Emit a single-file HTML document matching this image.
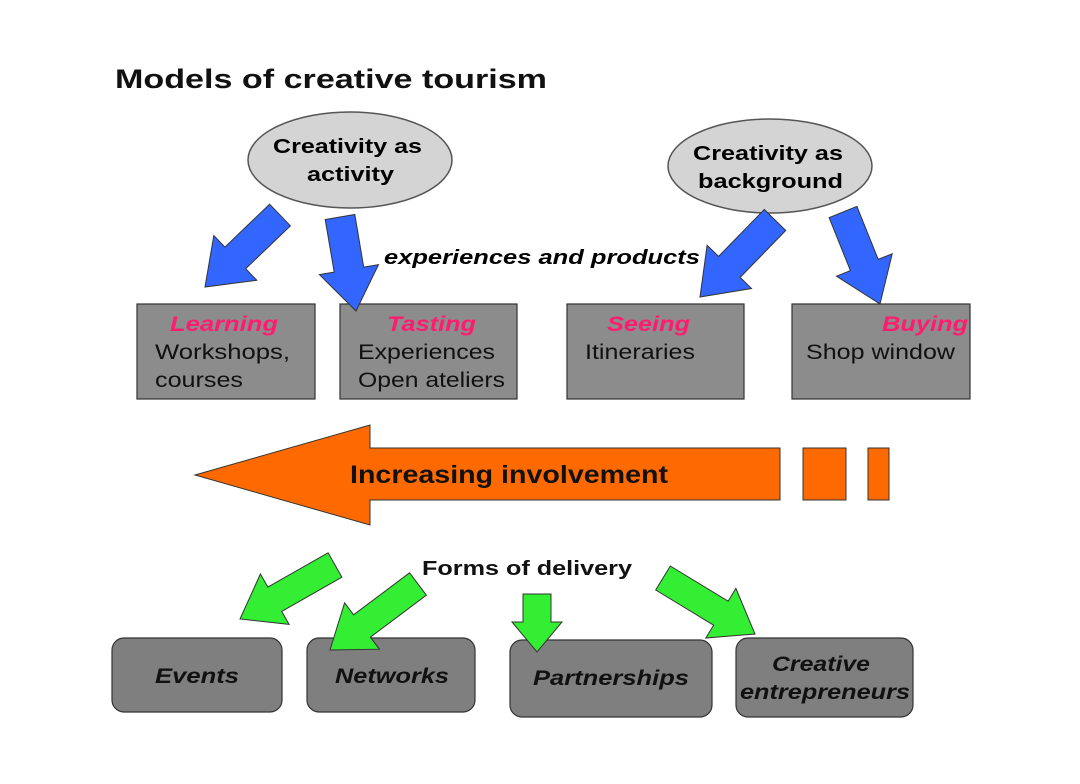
<!DOCTYPE html>
<html><head><meta charset="utf-8"><style>
body{margin:0;background:#fff}
svg text{font-family:"Liberation Sans",Arial,sans-serif}
</style></head><body>
<svg id="s" width="1080" height="779" viewBox="0 0 1080 779" xmlns="http://www.w3.org/2000/svg">
<text x="115" y="88" font-size="27" font-weight="bold" fill="#111" textLength="432" lengthAdjust="spacingAndGlyphs">Models of creative tourism</text>
<ellipse cx="350" cy="160" rx="102" ry="48" fill="#d4d4d4" stroke="#555" stroke-width="1.5"/>
<text x="273" y="153" font-size="20" font-weight="bold" textLength="149" lengthAdjust="spacingAndGlyphs">Creativity as</text>
<text x="307" y="181" font-size="20" font-weight="bold" textLength="87" lengthAdjust="spacingAndGlyphs">activity</text>
<ellipse cx="770" cy="166" rx="102" ry="47" fill="#d4d4d4" stroke="#555" stroke-width="1.5"/>
<text x="693" y="160" font-size="20" font-weight="bold" textLength="150" lengthAdjust="spacingAndGlyphs">Creativity as</text>
<text x="698" y="188" font-size="20" font-weight="bold" textLength="145" lengthAdjust="spacingAndGlyphs">background</text>
<text x="384" y="264" font-size="20" font-weight="bold" font-style="italic" textLength="316" lengthAdjust="spacingAndGlyphs">experiences and products</text>

<g fill="#8c8c8c" stroke="#333" stroke-width="1.2">
<rect x="137" y="304" width="178" height="95"/>
<rect x="340" y="304" width="177" height="95"/>
<rect x="567" y="304" width="177" height="95"/>
<rect x="792" y="304" width="178" height="95"/>
</g>
<g font-size="21" font-weight="bold" font-style="italic" fill="#ff1c6e" lengthAdjust="spacingAndGlyphs">
<text x="170" y="331" textLength="108" lengthAdjust="spacingAndGlyphs">Learning</text>
<text x="387" y="331" textLength="89" lengthAdjust="spacingAndGlyphs">Tasting</text>
<text x="607" y="331" textLength="83" lengthAdjust="spacingAndGlyphs">Seeing</text>
<text x="882" y="331" textLength="86" lengthAdjust="spacingAndGlyphs">Buying</text>
</g>
<g font-size="21" fill="#111">
<text x="155" y="359" textLength="135" lengthAdjust="spacingAndGlyphs">Workshops,</text>
<text x="155" y="387" textLength="88" lengthAdjust="spacingAndGlyphs">courses</text>
<text x="358" y="359" textLength="137" lengthAdjust="spacingAndGlyphs">Experiences</text>
<text x="358" y="387" textLength="147" lengthAdjust="spacingAndGlyphs">Open ateliers</text>
<text x="585" y="359" textLength="110" lengthAdjust="spacingAndGlyphs">Itineraries</text>
<text x="806" y="359" textLength="149" lengthAdjust="spacingAndGlyphs">Shop window</text>
</g>

<g fill="#ff6a00" stroke="#333" stroke-width="1">
<polygon points="195,475 370,425 370,448 780,448 780,500 370,500 370,525"/>
<rect x="803" y="448" width="43" height="52"/>
<rect x="868" y="448" width="21" height="52"/>
</g>
<text x="350" y="483" font-size="25" font-weight="bold" fill="#111" textLength="318" lengthAdjust="spacingAndGlyphs">Increasing involvement</text>
<text x="422" y="575" font-size="20" font-weight="bold" fill="#111" textLength="210" lengthAdjust="spacingAndGlyphs">Forms of delivery</text>

<g fill="#7f7f7f" stroke="#333" stroke-width="1.2">
<rect x="112" y="638" width="170" height="74" rx="12"/>
<rect x="307" y="638" width="168" height="74" rx="12"/>
<rect x="510" y="640" width="202" height="77" rx="12"/>
<rect x="736" y="638" width="177" height="79" rx="12"/>
</g>
<g font-size="21" font-weight="bold" font-style="italic" fill="#111">
<text x="155" y="683" textLength="84" lengthAdjust="spacingAndGlyphs">Events</text>
<text x="335" y="683" textLength="114" lengthAdjust="spacingAndGlyphs">Networks</text>
<text x="533" y="685" textLength="156" lengthAdjust="spacingAndGlyphs">Partnerships</text>
<text x="772" y="671" textLength="98" lengthAdjust="spacingAndGlyphs">Creative</text>
<text x="740" y="699" textLength="170" lengthAdjust="spacingAndGlyphs">entrepreneurs</text>
</g>
<g id="arrows"></g>
</svg>
<script>
function arrow(x1,y1,x2,y2,sw,hw,hl,fill){
 var dx=x2-x1,dy=y2-y1,L=Math.hypot(dx,dy),ux=dx/L,uy=dy/L,px=-uy,py=ux;
 var bx=x2-ux*hl,by=y2-uy*hl;
 var p=[[x1+px*sw/2,y1+py*sw/2],[bx+px*sw/2,by+py*sw/2],[bx+px*hw/2,by+py*hw/2],[x2,y2],
 [bx-px*hw/2,by-py*hw/2],[bx-px*sw/2,by-py*sw/2],[x1-px*sw/2,y1-py*sw/2]];
 var e=document.createElementNS("http://www.w3.org/2000/svg","polygon");
 e.setAttribute("points",p.map(function(q){return q[0].toFixed(1)+","+q[1].toFixed(1)}).join(" "));
 e.setAttribute("fill",fill);e.setAttribute("stroke","#333");e.setAttribute("stroke-width","1");
 document.getElementById("arrows").appendChild(e);
}
var B="#3366ff",G="#33ee33";
arrow(280,215,205,287,30,62,42,B);
arrow(340,217,356,311,30,60,42,B);
arrow(775,220,700,297,30,62,42,B);
arrow(843,212,880,304,30,60,42,B);
arrow(335,565,240,619,28,58,40,G);
arrow(418,584,330,650,28,58,40,G);
arrow(537,594,537,652,28,50,30,G);
arrow(663,578,755,634,28,58,40,G);
</script>
</body></html>
